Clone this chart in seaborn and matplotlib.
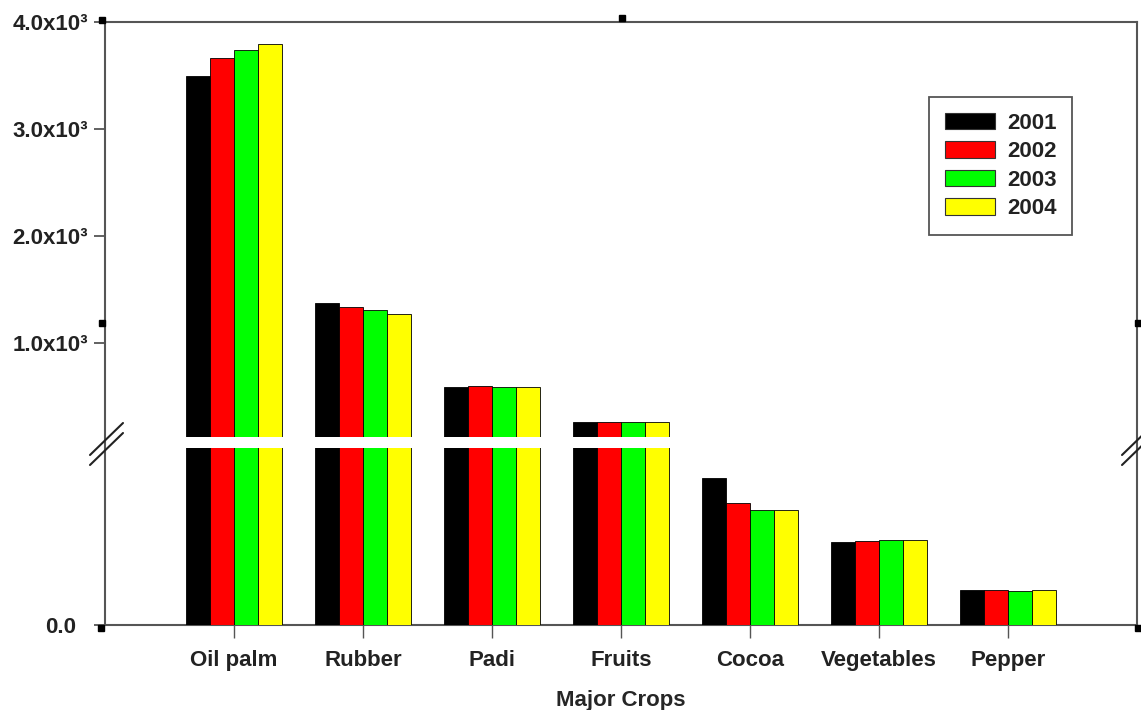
import matplotlib
matplotlib.use("Agg")
import matplotlib.pyplot as plt
from matplotlib.patches import Patch
from matplotlib.lines import Line2D
import seaborn as sns
import pandas as pd

crops = ["Oil palm", "Rubber", "Padi", "Fruits", "Cocoa", "Vegetables", "Pepper"]
years = ["2001", "2002", "2003", "2004"]
area_2001 = [3494, 1376, 589, 263, 83.0, 46.8, 19.9]
area_2002 = [3663, 1338, 598, 263, 68.8, 47.3, 19.9]
area_2003 = [3738, 1310, 584, 263, 64.8, 48.1, 19.1]
area_2004 = [3794, 1273, 584, 263, 64.8, 48.1, 19.9]
colors = ["#000000", "#ff0000", "#00ff00", "#ffff00"]
upper_ticks = [1000, 2000, 3000, 4000]
upper_labels = ["1.0x10³", "2.0x10³", "3.0x10³", "4.0x10³"]

rows = []
for yr, vals in zip(years, [area_2001, area_2002, area_2003, area_2004]):
    for c, v in zip(crops, vals):
        rows.append({"Crop": c, "Year": yr, "Area": v})
df = pd.DataFrame(rows)

sns.set_theme(style="white")
plt.rcParams["font.family"] = ["Liberation Sans", "DejaVu Sans"]
plt.rcParams["font.weight"] = "bold"
plt.rcParams["text.color"] = "#222222"
plt.rcParams["xtick.color"] = "#222222"
plt.rcParams["ytick.color"] = "#222222"

W, H = 1141, 710
fig = plt.figure(figsize=(W / 100, H / 100), dpi=100)

left, right = 105 / W, 1137 / W
def fy(py):
    return 1 - py / H

ax_top = fig.add_axes([left, fy(437), right - left, fy(22) - fy(437)])
ax_bot = fig.add_axes([left, fy(625), right - left, fy(448) - fy(625)])

for ax in (ax_top, ax_bot):
    sns.barplot(data=df, x="Crop", y="Area", hue="Year", palette=colors,
                saturation=1, width=0.74, gap=0, edgecolor="black", linewidth=0.6,
                legend=False, ax=ax, zorder=2)
    ax.set_xlim(-1, 7)
    ax.set_facecolor("none")
    for s in ax.spines.values():
        s.set_visible(False)
    ax.set_xlabel("")
    ax.set_ylabel("")

ax_top.set_ylim(120, 4000)
ax_top.set_yticks(upper_ticks)
ax_top.set_yticklabels(upper_labels)
ax_top.set_xticks([])
ax_top.tick_params(axis="y", direction="out", length=8, width=1.3, color="#555555",
                   pad=4, labelsize=16, left=True)

ax_bot.set_ylim(0, 100)
ax_bot.set_yticks([0])
ax_bot.set_yticklabels(["0.0"])
ax_bot.tick_params(axis="y", direction="out", length=8, width=1.3, color="#555555",
                   pad=13, labelsize=16, left=True)
ax_bot.tick_params(axis="x", direction="out", length=9, width=1.0, color="#555555",
                   pad=9, labelsize=16, bottom=True)
ax_bot.set_xlabel("Major Crops", fontsize=16, fontweight="bold", labelpad=14)

# outer frame drawn as one continuous box
frame = fig.add_axes([left, fy(625), right - left, fy(22) - fy(625)], zorder=-1)
frame.set_xticks([])
frame.set_yticks([])
frame.set_facecolor("white")
for s in frame.spines.values():
    s.set_color("#555555")
    s.set_linewidth(1.5)

# axis break marks
for x0 in (105, 1137):
    for dy in (0, 10):
        fig.add_artist(Line2D([(x0 - 15) / W, (x0 + 18) / W],
                              [fy(455 + dy), fy(423 + dy)],
                              color="#222222", lw=1.5))

# small square handles on the frame
for hx, hy in [(102, 20), (622, 18), (102, 323), (1138, 323), (101, 628), (1138, 628)]:
    fig.add_artist(Line2D([hx / W], [fy(hy)], marker="s", markersize=5,
                          color="black", linestyle="none"))

# legend
handles = [Patch(facecolor=c, edgecolor="#333333", linewidth=0.8, label=y)
           for c, y in zip(colors, years)]
leg = fig.legend(handles=handles, loc="upper left",
                 bbox_to_anchor=(929 / W, fy(97)), frameon=True, fancybox=False,
                 edgecolor="#555555", framealpha=1, fontsize=16,
                 handlelength=2.25, handleheight=0.77, labelspacing=0.34,
                 handletextpad=0.55, borderpad=0.7, borderaxespad=0)
leg.get_frame().set_linewidth(1.3)
for t in leg.get_texts():
    t.set_fontweight("bold")

fig.savefig("out.png", dpi=100)
